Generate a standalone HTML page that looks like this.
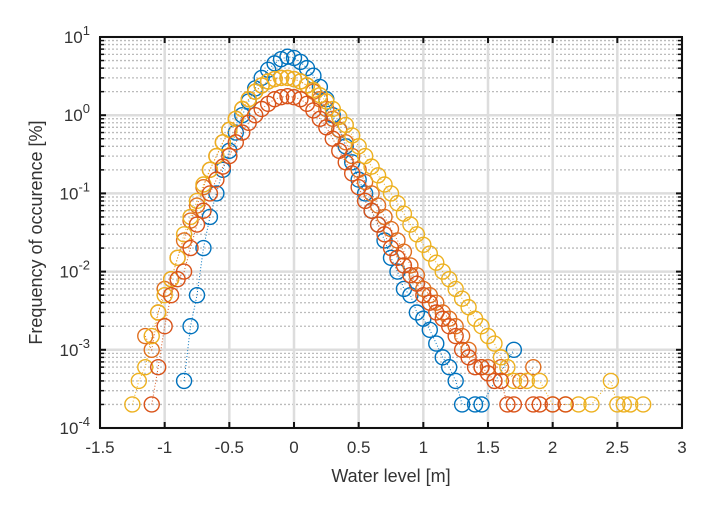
<!DOCTYPE html>
<html><head><meta charset="utf-8"><style>
body{margin:0;background:#fff;width:718px;height:519px;overflow:hidden}
svg text{font-family:"Liberation Sans",sans-serif;fill:#333}
</style></head><body>
<svg id="chart" width="718" height="519" xmlns="http://www.w3.org/2000/svg"></svg>
<script>
const xTicks=[-1.5,-1,-0.5,0,0.5,1,1.5,2,2.5,3];
const xTickLabels=["-1.5","-1","-0.5","0","0.5","1","1.5","2","2.5","3"];
const yDecades=[1,0,-1,-2,-3,-4];
const blueX=[-0.85,-0.8,-0.75,-0.7,-0.65,-0.6,-0.55,-0.5,-0.45,-0.4,-0.35,-0.3,-0.25,-0.2,-0.15,-0.1,-0.05,0,0.05,0.1,0.15,0.2,0.25,0.3,0.35,0.4,0.45,0.5,0.55,0.6,0.65,0.7,0.75,0.8,0.85,0.9,0.95,1.0,1.05,1.1,1.15,1.2,1.25,1.3,1.4,1.45,1.7];
const blueY=[0.0004,0.002,0.005,0.02,0.05,0.1,0.2,0.35,0.6,1.0,1.5,2.2,3.0,3.8,4.6,5.2,5.6,5.4,4.8,4.0,3.2,2.3,1.6,1.0,0.65,0.4,0.25,0.15,0.1,0.06,0.04,0.025,0.015,0.01,0.006,0.005,0.003,0.0025,0.0018,0.0012,0.0008,0.0006,0.0004,0.0002,0.0002,0.0002,0.001];
const orangeLowX=[-1.1,-1.05,-1.0,-0.95,-0.9,-0.85,-0.8,-0.75,-0.7,-0.65,-0.6,-0.55,-0.5,-0.45,-0.4,-0.35,-0.3,-0.25,-0.2,-0.15,-0.1,-0.05,0,0.05,0.1,0.15,0.2,0.25,0.3,0.35,0.4,0.45,0.5,0.55,0.6,0.65,0.7,0.75,0.8,0.85,0.9,0.95,1.0,1.05,1.1,1.15,1.2,1.25,1.3,1.35,1.4,1.45,1.5,1.55,1.6,1.65,1.7,1.85,1.9,2.0,2.1];
const orangeLowY=[0.0002,0.0006,0.002,0.005,0.008,0.01,0.02,0.04,0.06,0.1,0.15,0.22,0.3,0.45,0.6,0.8,1.0,1.2,1.4,1.6,1.7,1.75,1.7,1.6,1.4,1.15,0.9,0.7,0.5,0.35,0.25,0.18,0.12,0.08,0.06,0.04,0.03,0.02,0.015,0.012,0.009,0.007,0.005,0.004,0.003,0.0025,0.002,0.0015,0.001,0.0008,0.0006,0.0006,0.0005,0.0004,0.0004,0.0002,0.0002,0.0002,0.0002,0.0002,0.0002];
const orangeHighX=[-1.15,-1.1,-1.05,-1.0,-0.95,-0.9,-0.85,-0.8,-0.75,-0.7,-0.65,-0.6,-0.55,-0.5,-0.45,-0.4,-0.35,-0.3,-0.25,-0.2,-0.15,-0.1,-0.05,0,0.05,0.1,0.15,0.2,0.25,0.3,0.35,0.4,0.45,0.5,0.55,0.6,0.65,0.7,0.75,0.8,0.85,0.9,0.95,1.0,1.05,1.1,1.15,1.2,1.25,1.3,1.35,1.45,1.5,1.6,1.75,1.85];
const orangeHighY=[0.0015,0.001,0.003,0.006,0.008,0.015,0.025,0.045,0.07,0.12,0.2,0.3,0.45,0.65,0.9,1.2,1.6,2.0,2.4,2.7,2.9,3.0,3.0,2.9,2.7,2.4,2.0,1.6,1.2,0.9,0.65,0.45,0.3,0.2,0.14,0.1,0.07,0.05,0.035,0.025,0.018,0.012,0.009,0.006,0.005,0.004,0.003,0.0025,0.002,0.0015,0.001,0.0006,0.0006,0.0006,0.0004,0.0006];
const yellowX=[-1.25,-1.2,-1.15,-1.1,-1.05,-1.0,-0.95,-0.9,-0.85,-0.8,-0.75,-0.7,-0.65,-0.6,-0.55,-0.5,-0.45,-0.4,-0.35,-0.3,-0.25,-0.2,-0.15,-0.1,-0.05,0,0.05,0.1,0.15,0.2,0.25,0.3,0.35,0.4,0.45,0.5,0.55,0.6,0.65,0.7,0.75,0.8,0.85,0.9,0.95,1.0,1.05,1.1,1.15,1.2,1.25,1.3,1.35,1.4,1.45,1.5,1.55,1.6,1.65,1.7,1.8,1.9,2.0,2.1,2.2,2.3,2.45,2.5,2.55,2.6,2.7];
const yellowY=[0.0002,0.0004,0.0006,0.0015,0.003,0.005,0.008,0.015,0.03,0.05,0.08,0.13,0.2,0.3,0.45,0.65,0.9,1.2,1.6,2.0,2.4,2.7,2.9,3.0,3.0,2.9,2.7,2.4,2.1,1.8,1.5,1.2,0.95,0.75,0.55,0.4,0.3,0.22,0.17,0.13,0.1,0.075,0.055,0.04,0.03,0.022,0.017,0.013,0.01,0.008,0.006,0.0045,0.0035,0.0025,0.002,0.0015,0.0012,0.0008,0.0006,0.0004,0.0004,0.0004,0.0002,0.0002,0.0002,0.0002,0.0004,0.0002,0.0002,0.0002,0.0002];

const L=100,R=682,T=37,B=428;
const xs=v=>L+(v-(-1.5))/4.5*(R-L);
const ys=v=>T+(1-Math.log10(v))*(B-T)/5;
const NS="http://www.w3.org/2000/svg";
const svg=document.getElementById('chart');
function mk(tag,attrs,parent){const e=document.createElementNS(NS,tag);for(const k in attrs)e.setAttribute(k,attrs[k]);(parent||svg).appendChild(e);return e;}

const grid=mk('g',{});


yDecades.forEach(d=>{if(d>-4){for(let m=2;m<=9;m++){const y=ys(m*Math.pow(10,d-1));mk('line',{x1:L,x2:R,y1:y,y2:y,stroke:'#bbb','stroke-width':1.3,'stroke-dasharray':'2,2'},grid);}}});
xTicks.forEach(v=>{const x=xs(v);mk('line',{x1:x,x2:x,y1:T,y2:B,stroke:'#ddd','stroke-width':2.5},grid);});
yDecades.forEach(d=>{const y=ys(Math.pow(10,d));mk('line',{x1:L,x2:R,y1:y,y2:y,stroke:'#ddd','stroke-width':2.5},grid);});

function series(name,X,Y,color){
  const g=mk('g',{});
  
  
  mk('polyline',{points:X.map((x,i)=>xs(x)+','+ys(Y[i])).join(' '),fill:'none',stroke:color,'stroke-width':1,'stroke-dasharray':'1,2'},g);
  X.forEach((x,i)=>{const c=mk('circle',{cx:xs(x),cy:ys(Y[i]),r:7.5,fill:'none',stroke:color,'stroke-width':1.4},g);
    
    });
}
series('series-blue',blueX,blueY,'#0072BD');
series('series-orange-high',orangeHighX,orangeHighY,'#E07020');
series('series-yellow',yellowX,yellowY,'#EDB120');
series('series-orange-low',orangeLowX,orangeLowY,'#D95319');

const ax=mk('g',{});


mk('rect',{x:L,y:T,width:R-L,height:B-T,fill:'none',stroke:'#111','stroke-width':2},ax);
xTicks.forEach((v,i)=>{const x=xs(v);
  mk('line',{x1:x,x2:x,y1:B,y2:B-6,stroke:'#111','stroke-width':2},ax);
  mk('line',{x1:x,x2:x,y1:T,y2:T+6,stroke:'#111','stroke-width':2},ax);
  const t=mk('text',{x:x,y:B+25,'text-anchor':'middle','font-size':17},ax);t.textContent=xTickLabels[i];
  
  });
yDecades.forEach(d=>{const y=ys(Math.pow(10,d));
  mk('line',{x1:L,x2:L+6,y1:y,y2:y,stroke:'#111','stroke-width':2},ax);
  mk('line',{x1:R,x2:R-6,y1:y,y2:y,stroke:'#111','stroke-width':2},ax);
  if(d>-4)for(let m=2;m<=9;m++){const yy=ys(m*Math.pow(10,d-1));mk('line',{x1:L,x2:L+4,y1:yy,y2:yy,stroke:'#111','stroke-width':1.5},ax);mk('line',{x1:R,x2:R-4,y1:yy,y2:yy,stroke:'#111','stroke-width':1.5},ax);}
  const t=mk('text',{x:L-10,y:y+6,'text-anchor':'end','font-size':17},ax);
  
  
  t.innerHTML='10<tspan dy="-8" font-size="13">'+d+'</tspan>';});
const xl=mk('text',{x:(L+R)/2,y:482,'text-anchor':'middle','font-size':18});xl.textContent='Water level [m]';


const yl=mk('text',{x:0,y:0,'text-anchor':'middle','font-size':18,transform:'translate(42,'+((T+B)/2)+') rotate(-90)'});yl.textContent='Frequency of occurence [%]';


</script>
</body></html>
